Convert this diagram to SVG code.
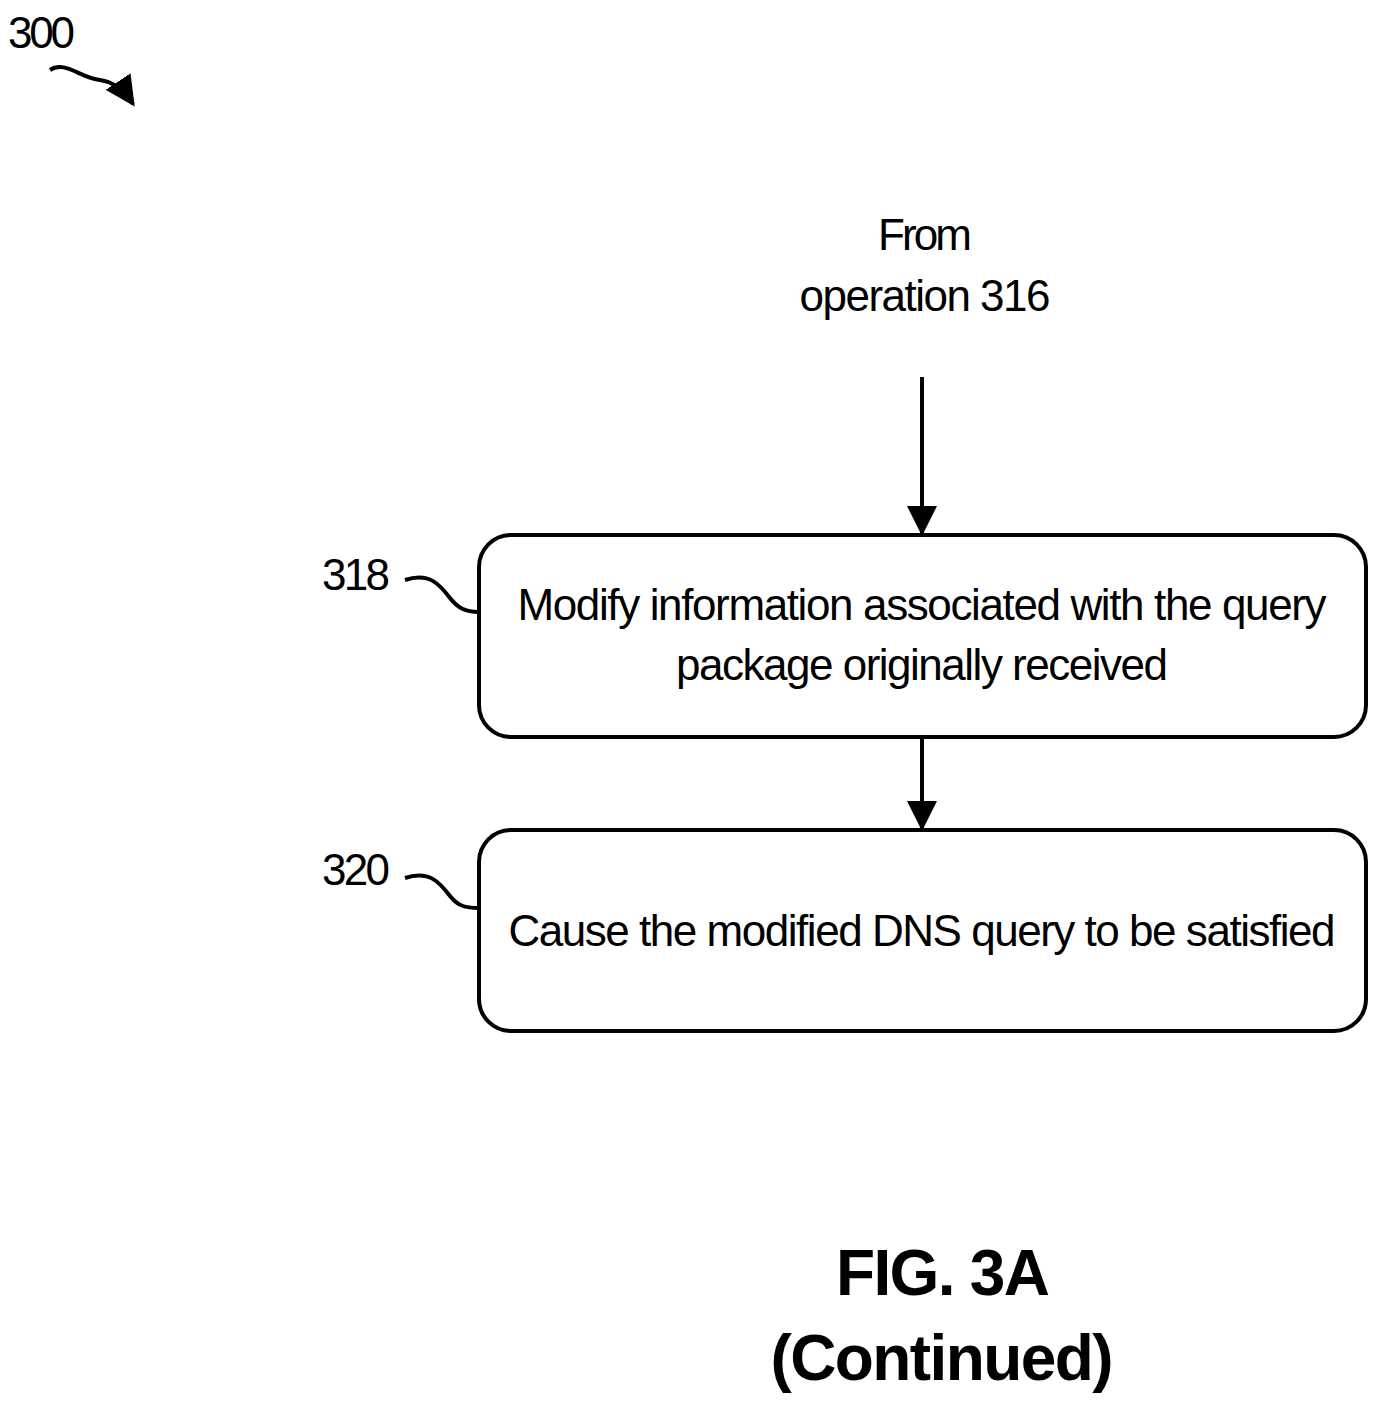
<svg xmlns="http://www.w3.org/2000/svg" width="1383" height="1407" viewBox="0 0 1383 1407">
<style>
text{font-family:"Liberation Sans Narrow","Liberation Sans",Arial,sans-serif;fill:#000}
.t{font-size:44px;text-anchor:middle}
.l{font-size:44px}
.b{font-size:64px;font-weight:bold;text-anchor:middle}
.box{fill:#fff;stroke:#000;stroke-width:4}
.ln{fill:none;stroke:#000;stroke-width:4}
</style>
<defs><marker id="a" markerWidth="10" markerHeight="10" refX="7" refY="5" orient="auto" markerUnits="userSpaceOnUse" viewBox="0 0 10 10"><path d="M0,0L10,5L0,10z"/></marker>
<marker id="h" viewBox="0 0 10 10" refX="9" refY="5" markerWidth="30" markerHeight="30" markerUnits="userSpaceOnUse" orient="auto"><path d="M0,0L10,5L0,10z"/></marker></defs>
<g id="ref300"><text class="l" x="8" y="48" textLength="67">300</text>
<path class="ln" d="M50,70 C65,60 80,78 100,80 C115,82 125,92 133,104" marker-end="url(#h)"/></g>
<g id="from"><text class="t" x="925" y="250" textLength="94">From</text>
<text class="t" x="925" y="311" textLength="251">operation 316</text></g>
<g id="connectors">
<line class="ln" x1="922" y1="377" x2="922" y2="533" marker-end="url(#h)"/>
<line class="ln" x1="922" y1="737" x2="922" y2="828" marker-end="url(#h)"/>
<path class="ln" d="M405,580 C430,572 440,585 450,598 C458,608 465,612 479,612"/>
<path class="ln" d="M405,878 C430,870 440,883 450,896 C458,906 465,908 479,908"/>
</g>
<g id="n318"><rect class="box" x="479" y="535" width="887" height="202" rx="32"/>
<text class="t" x="922" y="620" textLength="809">Modify information associated with the query</text>
<text class="t" x="922" y="680" textLength="492">package originally received</text>
<text class="l" x="322" y="590" textLength="68">318</text></g>
<g id="n320"><rect class="box" x="479" y="830" width="887" height="201" rx="32"/>
<text class="t" x="922" y="946" textLength="827">Cause the modified DNS query to be satisfied</text>
<text class="l" x="322" y="885" textLength="68">320</text></g>
<g id="caption"><text class="b" x="943" y="1295" textLength="214">FIG. 3A</text>
<text class="b" x="942" y="1380" textLength="343">(Continued)</text></g>
</svg>
